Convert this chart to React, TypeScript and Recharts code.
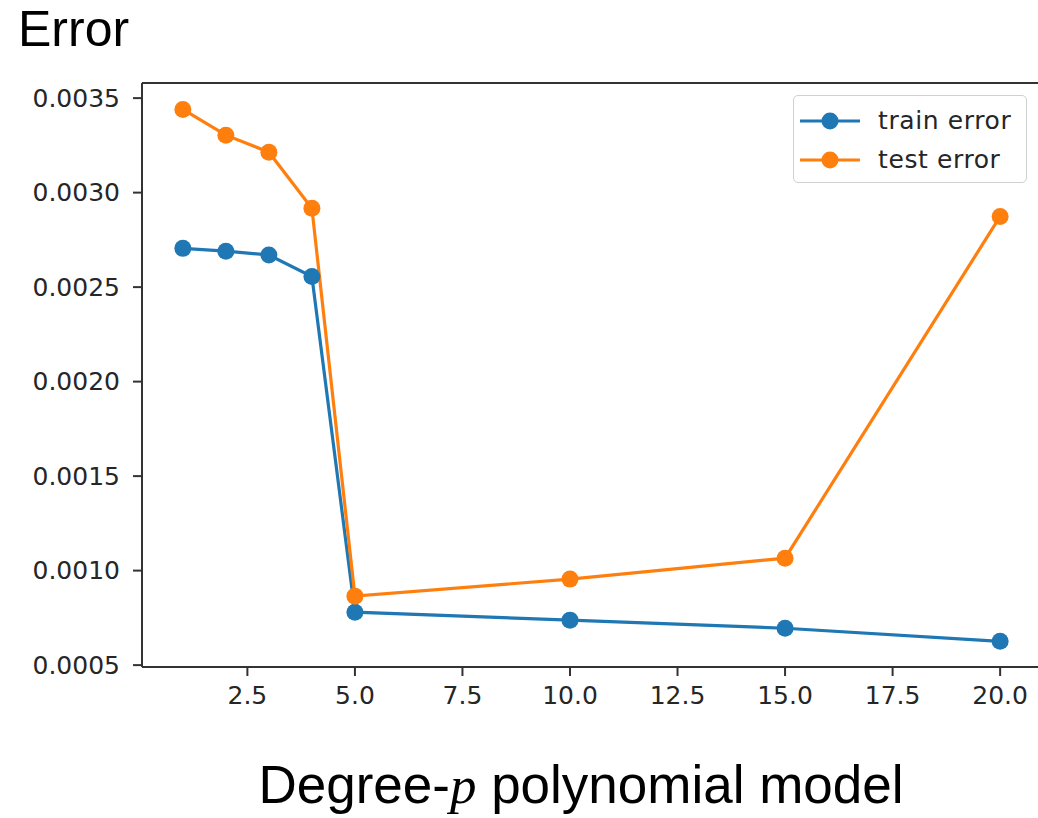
import React from 'react';
import { LineChart, Line, XAxis, YAxis, ReferenceLine } from 'recharts';

const degrees = [1, 2, 3, 4, 5, 10, 15, 20];
const trainError = [0.002705, 0.00269, 0.00267, 0.002556, 0.00078, 0.000738, 0.000695, 0.000626];
const testError = [0.00344, 0.003304, 0.003214, 0.002917, 0.000865, 0.000955, 0.001066, 0.002874];
const xTicks = [2.5, 5, 7.5, 10, 12.5, 15, 17.5, 20];
const yTicks = [0.0005, 0.001, 0.0015, 0.002, 0.0025, 0.003, 0.0035];

const TRAIN = '#1f77b4';
const TEST = '#ff7f0e';
const AXIS = '#333333';
const tickFont = { fontFamily: 'DejaVu Sans', fontSize: 25, fill: '#262626' };

const chartData = degrees.map((d, i) => ({ degree: d, train: trainError[i], test: testError[i] }));

const LegendRow = ({ color, label }: { color: string; label: string }) => (
  <div style={{ display: 'flex', alignItems: 'center', height: 39 }}>
    <svg width={60} height={20} style={{ marginRight: 18 }}>
      <line x1={0} y1={10} x2={60} y2={10} stroke={color} strokeWidth={3.2} />
      <circle cx={30} cy={10} r={8.5} fill={color} />
    </svg>
    <span style={{ letterSpacing: 0.6 }}>{label}</span>
  </div>
);

export default function App() {
  return (
    <div style={{ position: 'absolute', left: 0, top: 0, width: 1038, height: 818, overflow: 'hidden', background: '#fff' }}>
      <LineChart width={1050} height={818} data={chartData} margin={{ top: 83, right: 9, bottom: 91, left: 0 }}>
        <XAxis
          dataKey="degree"
          type="number"
          domain={[0.05, 20.95]}
          ticks={xTicks}
          tickFormatter={(v: number) => v.toFixed(1)}
          allowDataOverflow
          height={60}
          stroke={AXIS}
          strokeWidth={2}
          tickSize={9}
          tickMargin={10}
          tick={tickFont}
        />
        <YAxis
          type="number"
          domain={[0.00049, 0.00358]}
          ticks={yTicks}
          tickFormatter={(v: number) => v.toFixed(4)}
          allowDataOverflow
          width={142}
          stroke={AXIS}
          strokeWidth={2}
          tickSize={9}
          tickMargin={13}
          tick={tickFont}
        />
        <ReferenceLine y={0.00358} stroke={AXIS} strokeWidth={2} />
        <Line
          dataKey="train"
          stroke={TRAIN}
          strokeWidth={3.2}
          dot={{ r: 8.5, fill: TRAIN, stroke: TRAIN, strokeWidth: 0 }}
          activeDot={false}
          isAnimationActive={false}
        />
        <Line
          dataKey="test"
          stroke={TEST}
          strokeWidth={3.2}
          dot={{ r: 8.5, fill: TEST, stroke: TEST, strokeWidth: 0 }}
          activeDot={false}
          isAnimationActive={false}
        />
      </LineChart>

      <div
        style={{
          position: 'absolute',
          left: 793,
          top: 95,
          width: 234,
          height: 88,
          boxSizing: 'border-box',
          border: '1.5px solid #d0d0d0',
          borderRadius: 5,
          padding: '5px 6px',
          fontFamily: 'DejaVu Sans',
          fontSize: 25,
          color: '#262626',
        }}
      >
        <LegendRow color={TRAIN} label="train error" />
        <LegendRow color={TEST} label="test error" />
      </div>

      <div style={{ position: 'absolute', left: 18, top: 4, fontFamily: 'Liberation Sans', fontSize: 50, lineHeight: '50px', color: '#000' }}>
        Error
      </div>

      <div
        style={{
          position: 'absolute',
          left: 81,
          top: 758,
          width: 1000,
          textAlign: 'center',
          fontFamily: 'Liberation Sans',
          fontSize: 53,
          lineHeight: '53px',
          color: '#000',
        }}
      >
        Degree-<span style={{ fontFamily: 'Liberation Serif', fontStyle: 'italic' }}>p</span> polynomial model
      </div>
    </div>
  );
}
